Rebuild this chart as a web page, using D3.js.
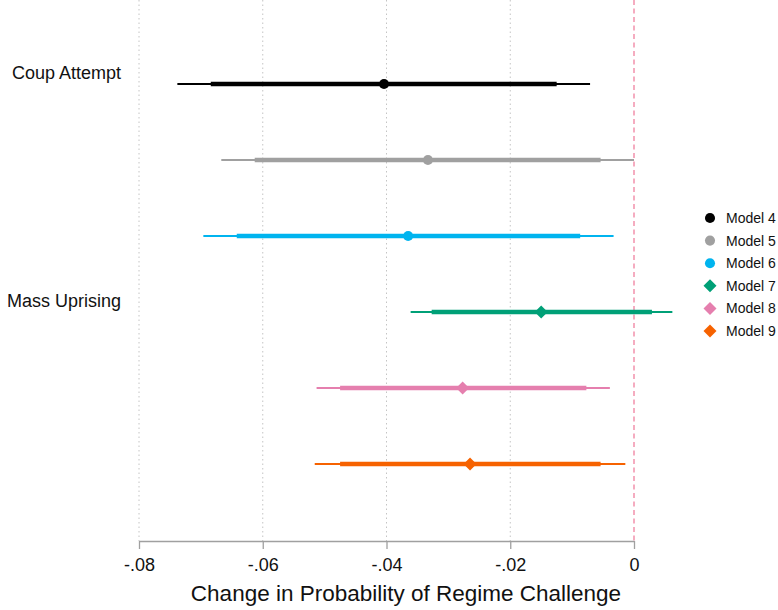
<!DOCTYPE html>
<html>
<head>
<meta charset="utf-8">
<script src="https://cdn.jsdelivr.net/npm/d3@7"></script>
<style>
  html, body { margin: 0; padding: 0; background: #fff; }
  svg { display: block; font-family: "Liberation Sans", Arial, sans-serif; }
</style>
</head>
<body>
<svg id="chart" width="778" height="610"></svg>
<script>
// ---- data ----
const models = ["Model 4", "Model 5", "Model 6", "Model 7", "Model 8", "Model 9"];
const estimates = [-0.0404, -0.0333, -0.0365, -0.0150, -0.0277, -0.0265];
const ci95Lo = [-0.0738, -0.0667, -0.0696, -0.0361, -0.0513, -0.0516];
const ci95Hi = [-0.0071, 0.0000, -0.0033, 0.0062, -0.0039, -0.0014];
const ci90Lo = [-0.0684, -0.0613, -0.0642, -0.0327, -0.0475, -0.0475];
const ci90Hi = [-0.0125, -0.0054, -0.0087, 0.0029, -0.0077, -0.0054];
const markerShapes = ["circle", "circle", "circle", "diamond", "diamond", "diamond"];
const colors = ["#000000", "#a0a0a0", "#00b4ef", "#00a077", "#e57fae", "#f66200"];
const categories = ["Coup Attempt", "Mass Uprising"];
const categoryModel = ["Model 4", "Model 7"];
const tickValues = [-0.08, -0.06, -0.04, -0.02, 0];
const tickLabels = ["-.08", "-.06", "-.04", "-.02", "0"];
const xTitle = "Change in Probability of Regime Challenge";

// ---- layout ----
const svg = d3.select("#chart");
const plotTop = 0, plotBottom = 541;
const x = d3.scaleLinear().domain([-0.08, 0]).range([139, 634]);
const y = d3.scalePoint().domain(models).range([84, 464]);

// grid lines
svg.append("g").selectAll("line")
  .data(tickValues.filter(v => v !== 0))
  .join("line")
  .attr("x1", d => x(d)).attr("x2", d => x(d))
  .attr("y1", plotTop).attr("y2", plotBottom)
  .attr("stroke", "#c4c4c4").attr("stroke-width", 1)
  .attr("stroke-dasharray", "1.5,3");

// reference line at 0
svg.append("line")
  .attr("x1", x(0)).attr("x2", x(0))
  .attr("y1", plotTop).attr("y2", plotBottom)
  .attr("stroke", "#f0809f").attr("stroke-width", 1.3)
  .attr("stroke-dasharray", "5,3.5");

// axis
const axis = d3.axisBottom(x)
  .tickValues(tickValues)
  .tickFormat((d, i) => tickLabels[i])
  .tickSize(8)
  .tickSizeOuter(0)
  .tickPadding(9);
const gAxis = svg.append("g").attr("transform", `translate(0,${plotBottom})`).call(axis);
gAxis.select(".domain").attr("stroke", "#a0a0a0").attr("stroke-width", 1.3);
gAxis.selectAll(".tick line").attr("stroke", "#a0a0a0").attr("stroke-width", 1.3);
gAxis.selectAll(".tick text").attr("fill", "#111").attr("font-size", 18)
  .attr("font-family", "Liberation Sans, Arial, sans-serif");

svg.append("text")
  .attr("x", 406).attr("y", 601)
  .attr("text-anchor", "middle")
  .attr("font-size", 22.5)
  .attr("fill", "#111")
  .text(xTitle);

// category labels
svg.append("g").selectAll("text")
  .data(categories)
  .join("text")
  .attr("x", 121)
  .attr("y", (d, i) => y(categoryModel[i]) - 11)
  .attr("dy", "0.35em")
  .attr("text-anchor", "end")
  .attr("font-size", 18)
  .attr("fill", "#111")
  .text(d => d);

// intervals
const rows = models.map((m, i) => ({
  m, est: estimates[i], lo95: ci95Lo[i], hi95: ci95Hi[i],
  lo90: ci90Lo[i], hi90: ci90Hi[i], shape: markerShapes[i], color: colors[i]
}));

const g = svg.append("g");
g.selectAll("line.ci95").data(rows).join("line").attr("class", "ci95")
  .attr("x1", d => x(d.lo95)).attr("x2", d => x(d.hi95))
  .attr("y1", d => y(d.m)).attr("y2", d => y(d.m))
  .attr("stroke", d => d.color).attr("stroke-width", 2);
g.selectAll("line.ci90").data(rows).join("line").attr("class", "ci90")
  .attr("x1", d => x(d.lo90)).attr("x2", d => x(d.hi90))
  .attr("y1", d => y(d.m)).attr("y2", d => y(d.m))
  .attr("stroke", d => d.color).attr("stroke-width", 4.5);

const circleSym = d3.symbol().type(d3.symbolCircle).size(80);
const diamondPath = s => `M0,${-s}L${s},0L0,${s}L${-s},0Z`;
g.selectAll("path.pt").data(rows).join("path").attr("class", "pt")
  .attr("transform", d => `translate(${x(d.est)},${y(d.m)})`)
  .attr("d", d => d.shape === "circle" ? circleSym() : diamondPath(6.5))
  .attr("fill", d => d.color);

// legend
const legendY = d3.scalePoint().domain(models).range([218, 331]);
const lg = svg.append("g");
lg.selectAll("path").data(rows).join("path")
  .attr("transform", d => `translate(710,${legendY(d.m)})`)
  .attr("d", d => d.shape === "circle" ? circleSym() : diamondPath(6.5))
  .attr("fill", d => d.color);
lg.selectAll("text").data(rows).join("text")
  .attr("x", 726).attr("y", d => legendY(d.m))
  .attr("dy", "0.35em")
  .attr("font-size", 14)
  .attr("fill", "#111")
  .text(d => d.m);
</script>
</body>
</html>
